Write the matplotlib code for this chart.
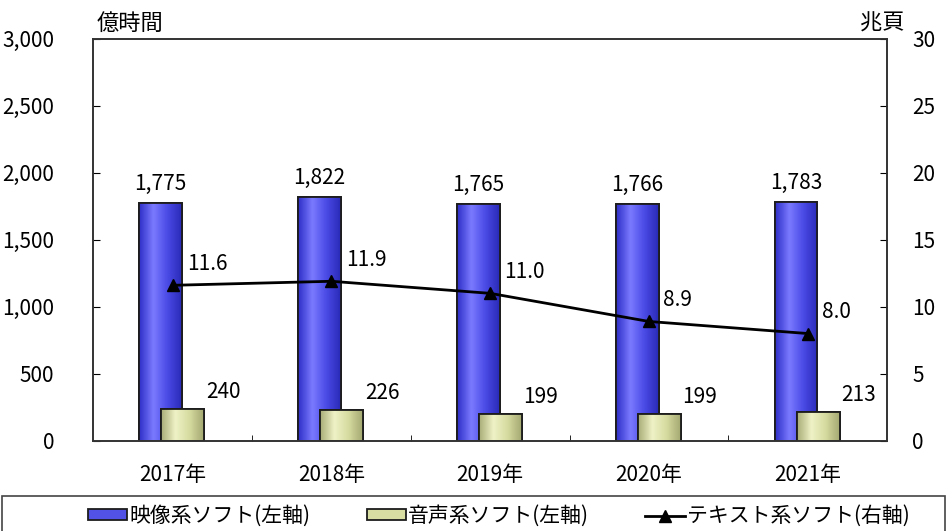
import matplotlib
matplotlib.use("Agg")
import matplotlib.pyplot as plt
from matplotlib.colors import LinearSegmentedColormap
import numpy as np

plt.rcParams['font.family'] = ['Noto Sans CJK JP', 'DejaVu Sans']

years = ["2017年", "2018年", "2019年", "2020年", "2021年"]
video = [1775, 1822, 1765, 1766, 1783]      # 億時間 (left axis)
audio = [240, 226, 199, 199, 213]           # 億時間 (left axis)
text = [11.6, 11.9, 11.0, 8.9, 8.0]         # 兆頁 (right axis)

x = np.arange(len(years))
w = 0.27
fs = 15

fig = plt.figure(figsize=(9.5, 5.31), dpi=100)
ax = fig.add_axes([0.098, 0.17, 0.836, 0.757])
ax2 = ax.twinx()

blue_map = LinearSegmentedColormap.from_list("b", ["#2f2fc8", "#7a7aff", "#4a4ae6", "#2a2ab8"])
green_map = LinearSegmentedColormap.from_list("g", ["#a9ad78", "#eef2c6", "#d6dba0", "#a4a872"])
grad = np.linspace(0, 1, 64).reshape(1, -1)


def shade(bars, cmap, z):
    # horizontal gradient inside each bar, then an outline on top
    for b in bars:
        bx, by = b.get_x(), b.get_y()
        bw, bh = b.get_width(), b.get_height()
        im = ax.imshow(grad, cmap=cmap, extent=[bx, bx + bw, by, by + bh],
                       aspect="auto", zorder=z + 0.1, interpolation="bicubic")
        im.set_clip_path(b)
        ax.add_patch(plt.Rectangle((bx, by), bw, bh, fill=False,
                                   edgecolor="#1c1c1c", linewidth=1.3, zorder=z + 0.2))


vb = ax.bar(x - 0.075, video, w, color="#5252E6", edgecolor="#1c1c1c", linewidth=1.3, zorder=2,
            label="映像系ソフト(左軸)")
ab = ax.bar(x + 0.065, audio, w, color="#D8DDA2", edgecolor="#1c1c1c", linewidth=1.3, zorder=3,
            label="音声系ソフト(左軸)")
shade(vb, blue_map, 2)
shade(ab, green_map, 3)

ax2.plot(x, text, color="black", linewidth=2, marker="^", markersize=9,
         label="テキスト系ソフト(右軸)")

for i in range(len(years)):
    ax.text(x[i] - 0.075, video[i] + 60, f"{video[i]:,}", ha="center", va="bottom", fontsize=fs)
    ax.text(x[i] + 0.21, audio[i] + 45, f"{audio[i]}", ha="left", va="bottom", fontsize=fs)
    ax2.text(x[i] + 0.09, text[i] + 0.75, f"{text[i]:.1f}", ha="left", va="bottom", fontsize=fs)

ax.set_xlim(-0.5, len(years) - 0.5)
ax.set_ylim(0, 3000)
ax2.set_ylim(0, 30)
ax.set_yticks(range(0, 3001, 500))
ax.set_yticklabels([f"{v:,}" for v in range(0, 3001, 500)])
ax2.set_yticks(range(0, 31, 5))
ax.set_xticks(x)
ax.set_xticklabels(years)
ax.set_xticks(np.arange(0.5, len(years) - 0.5, 1), minor=True)

ax.tick_params(axis="y", direction="in", length=5, labelsize=fs, pad=28)
ax2.tick_params(axis="y", direction="in", length=5, labelsize=fs, pad=18)
ax.tick_params(axis="x", which="major", length=0, labelsize=fs, pad=17)
ax.tick_params(axis="x", which="minor", direction="in", length=4)

for a in (ax, ax2):
    for s in a.spines.values():
        s.set_linewidth(1.2)
        s.set_color("#333333")

fig.text(0.102, 0.935, "億時間", fontsize=16, ha="left", va="bottom")
fig.text(0.952, 0.935, "兆頁", fontsize=16, ha="right", va="bottom")

# legend box spanning the full width, bottom edge running off the figure
fig.add_artist(plt.Rectangle((0.002, -0.05), 0.993, 0.116, transform=fig.transFigure,
                             fill=False, edgecolor="#444444", linewidth=1.2))

h1, l1 = ax.get_legend_handles_labels()
h2, l2 = ax2.get_legend_handles_labels()
fig.legend(h1 + h2, l1 + l2, loc="center", bbox_to_anchor=(0.525, 0.028), ncol=3,
           fontsize=fs, frameon=False, handlelength=1.9, handleheight=0.45,
           handletextpad=0.1, columnspacing=2.7, borderpad=0)

fig.savefig("out.png", dpi=100)
